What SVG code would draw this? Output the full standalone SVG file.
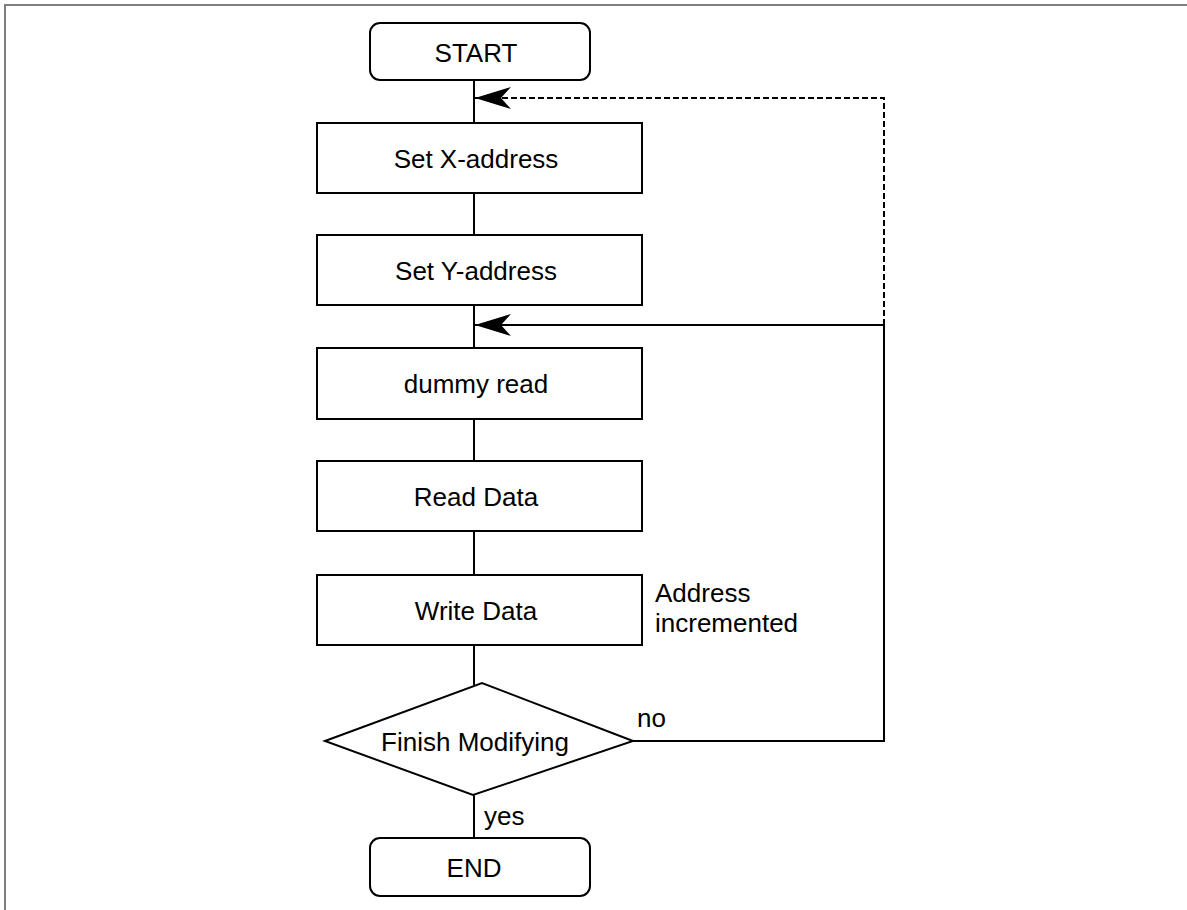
<svg xmlns="http://www.w3.org/2000/svg" width="1187" height="910" viewBox="0 0 1187 910">
<style>
.node{fill:#fff;stroke:#000;stroke-width:2}
.lbl{font-family:"Liberation Sans",Arial,sans-serif;font-size:26px;fill:#000}
.c{text-anchor:middle}
.ln{fill:none;stroke:#000;stroke-width:2}
.dash{stroke-dasharray:6 3}
</style>
<defs>
<marker id="ah" viewBox="-37 -12 38 24" markerWidth="38" markerHeight="24" refX="0" refY="0" orient="auto" markerUnits="userSpaceOnUse">
<path d="M0,0 L-36,-11 L-26,0 L-36,11 Z" fill="#000" stroke="none"/>
</marker>
</defs>
<rect width="1187" height="910" fill="#fff"/>
<path d="M5,910 V5 H1187" fill="none" stroke="#7f7f7f" stroke-width="2"/>
<g id="connectors">
<path class="ln" d="M474,80 V123"/>
<path class="ln" d="M474,193 V235"/>
<path class="ln" d="M474,305 V348"/>
<path class="ln" d="M474,419 V461"/>
<path class="ln" d="M474,531 V575"/>
<path class="ln" d="M474,645 V685"/>
<path class="ln" d="M474,795 V838"/>
<path class="ln" d="M633,741 H884 V325 H475" marker-end="url(#ah)"/>
<path class="ln dash" d="M884,325 V98 H475" marker-end="url(#ah)"/>
<text class="lbl" x="637" y="727">no</text>
<text class="lbl" x="484" y="825">yes</text>
</g>
<g id="start">
<rect class="node" x="370" y="23" width="220" height="57" rx="10"/>
<text class="lbl c" x="476" y="62">START</text>
</g>
<g id="setx">
<rect class="node" x="317" y="123" width="325" height="70"/>
<text class="lbl c" x="476" y="168">Set X-address</text>
</g>
<g id="sety">
<rect class="node" x="317" y="235" width="325" height="70"/>
<text class="lbl c" x="476" y="280">Set Y-address</text>
</g>
<g id="dummy">
<rect class="node" x="317" y="348" width="325" height="71"/>
<text class="lbl c" x="476" y="393">dummy read</text>
</g>
<g id="read">
<rect class="node" x="317" y="461" width="325" height="70"/>
<text class="lbl c" x="476" y="506">Read Data</text>
</g>
<g id="write">
<rect class="node" x="317" y="575" width="325" height="70"/>
<text class="lbl c" x="476" y="620">Write Data</text>
<text class="lbl" x="655" y="602">Address</text>
<text class="lbl" x="655" y="632">incremented</text>
</g>
<g id="decision">
<polygon class="node" points="325,741 482,683 633,741 473,795"/>
<text class="lbl c" x="475" y="751">Finish Modifying</text>
</g>
<g id="end">
<rect class="node" x="370" y="838" width="220" height="58" rx="10"/>
<text class="lbl c" x="474" y="877">END</text>
</g>
</svg>
